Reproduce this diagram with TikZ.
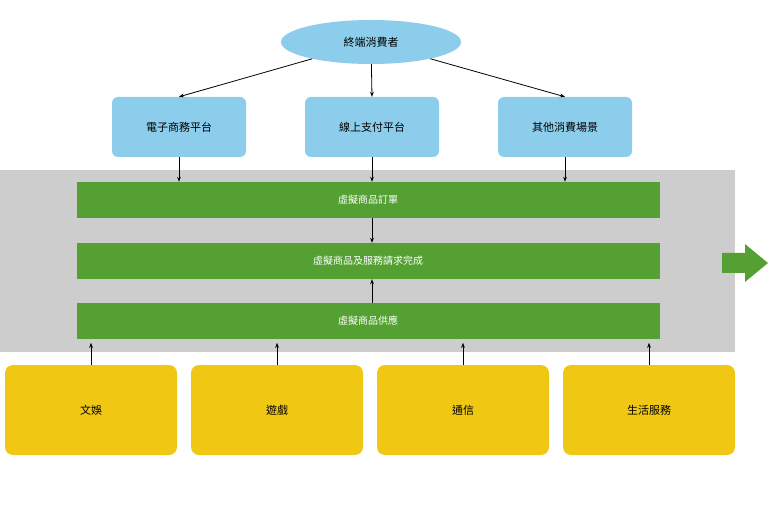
\documentclass[tikz,border=0pt]{standalone}
\usepackage{fontspec}
\setmainfont{Noto Sans CJK TC}
\usetikzlibrary{shapes.geometric,arrows.meta}
\definecolor{skyblue}{RGB}{140,205,235}
\definecolor{bargreen}{RGB}{84,160,50}
\definecolor{boxyellow}{RGB}{240,200,20}
\definecolor{bandgray}{RGB}{205,205,205}
\tikzset{
  channel/.style={draw=none, fill=skyblue, rounded corners=6pt, minimum width=134pt, minimum height=60pt, font=\fontsize{11}{13}\selectfont},
  bar/.style={fill=bargreen, minimum width=583pt, minimum height=36pt, text=white, font=\fontsize{10}{12}\selectfont},
  source/.style={fill=boxyellow, rounded corners=8pt, minimum width=172pt, minimum height=90pt, font=\fontsize{11}{13}\selectfont},
  link/.style={-{Stealth[length=5pt]}, thick}
}
\begin{document}
\begin{tikzpicture}[x=1pt, y=-1pt]
    \useasboundingbox (0,0) rectangle (768,510);
    \fill [bandgray] (0,170) rectangle (735,352);

    \node [ellipse, fill=skyblue, minimum width=180pt, minimum height=44pt, font=\fontsize{11}{13}\selectfont] (user) at (371,42) {終端消費者};

    \node [channel] (shop) at (179,127) {電子商務平台};
    \node [channel] (pay) at (372,127) {線上支付平台};
    \node [channel] (other) at (565,127) {其他消費場景};

    \node [bar] (order) at (368,200) {虛擬商品訂單};
    \node [bar] (done) at (368,261) {虛擬商品及服務請求完成};
    \node [bar] (supply) at (368,321) {虛擬商品供應};

    \node [source] (fun) at (91,410) {文娛};
    \node [source] (game) at (277,410) {遊戲};
    \node [source] (tele) at (463,410) {通信};
    \node [source] (life) at (649,410) {生活服務};

    \draw [link] (user) -- (shop.north);
    \draw [link] (user) -- (pay.north);
    \draw [link] (user) -- (other.north);

    \draw [link] (shop.south) -- (shop.south |- order.north);
    \draw [link] (pay.south) -- (pay.south |- order.north);
    \draw [link] (other.south) -- (other.south |- order.north);

    \draw [link] (order.south -| pay.south) -- (done.north -| pay.south);
    \draw [link] (supply.north -| pay.south) -- (done.south -| pay.south);

    \foreach \s in {fun, game, tele, life}
        \draw [link] (\s.north) -- ++(0,-22);

    \fill [bargreen] (722,253) -- (745,253) -- (745,244) -- (768,263) -- (745,282) -- (745,273) -- (722,273) -- cycle;
\end{tikzpicture}
\end{document}
